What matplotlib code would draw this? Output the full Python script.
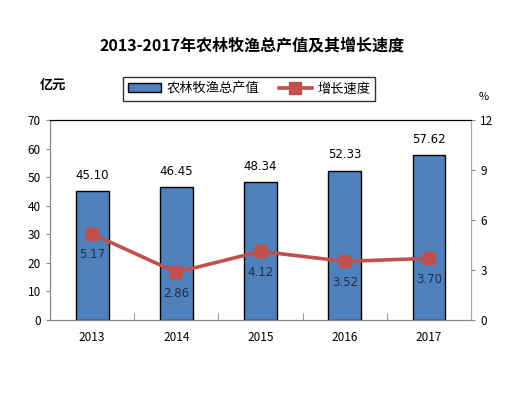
import matplotlib.pyplot as plt
import numpy as np

plt.rcParams['font.family'] = ['Noto Sans CJK SC', 'DejaVu Sans']

years = ['2013', '2014', '2015', '2016', '2017']
output_value = [45.10, 46.45, 48.34, 52.33, 57.62]
growth_rate = [5.17, 2.86, 4.12, 3.52, 3.70]

bar_color = '#4F81BD'
line_color = '#C0504D'

fig = plt.figure(figsize=(5.05, 3.99), dpi=100)
ax = fig.add_axes([0.099, 0.198, 0.834, 0.501])
x = np.arange(len(years))

bars = ax.bar(x, output_value, width=0.39, color=bar_color, edgecolor='black',
              linewidth=1.0, label='农林牧渔总产值', zorder=2)
ax.set_ylim(0, 70)
ax.set_yticks(range(0, 71, 10))
ax.set_xlim(-0.5, len(years) - 0.5)
ax.set_xticks(x)
ax.set_xticklabels(years)
ax.set_xticks(np.arange(-0.5, len(years)), minor=True)
ax.tick_params(axis='x', which='major', length=0, pad=8, labelsize=8.5)
ax.tick_params(axis='x', which='minor', length=5, direction='in', color='#888888')
ax.tick_params(axis='y', length=3, labelsize=8.5, color='#888888')

for xi, v in zip(x, output_value):
    ax.text(xi, v + 3.2, f'{v:.2f}', ha='center', va='bottom', fontsize=8.5,
            family='DejaVu Sans')

ax2 = ax.twinx()
line, = ax2.plot(x, growth_rate, color=line_color, linewidth=2.6, marker='s',
                 markersize=8, label='增长速度', zorder=3)
ax2.set_ylim(0, 12)
ax2.set_yticks(range(0, 13, 3))
ax2.tick_params(axis='y', length=3, labelsize=8.5, color='#888888')

for xi, v in zip(x, growth_rate):
    ax2.text(xi, v - 0.85, f'{v:.2f}', ha='center', va='top', fontsize=8.5,
             color='#1F2D4A', family='DejaVu Sans')

for a in (ax, ax2):
    a.spines['top'].set_color('black')
    a.spines['left'].set_color('#888888')
    a.spines['right'].set_color('#AAAAAA')
    a.spines['bottom'].set_color('#888888')

fig.text(0.5, 0.885, '2013-2017年农林牧渔总产值及其增长速度', ha='center', va='center',
         fontsize=11.5, fontweight='bold')
fig.text(0.079, 0.787, '亿元', ha='left', va='center', fontsize=9.5, fontweight='bold')
fig.text(0.948, 0.757, '%', ha='left', va='center', fontsize=8)

leg = fig.legend(handles=[bars, line], loc='center', bbox_to_anchor=(0.493, 0.777),
                 ncol=2, frameon=True, fancybox=False, fontsize=9.5,
                 handlelength=2.5, columnspacing=1.5, borderpad=0.4, handletextpad=0.4)
leg.get_frame().set_edgecolor('black')
leg.get_frame().set_linewidth(1.0)

fig.savefig('out.png', dpi=100)
